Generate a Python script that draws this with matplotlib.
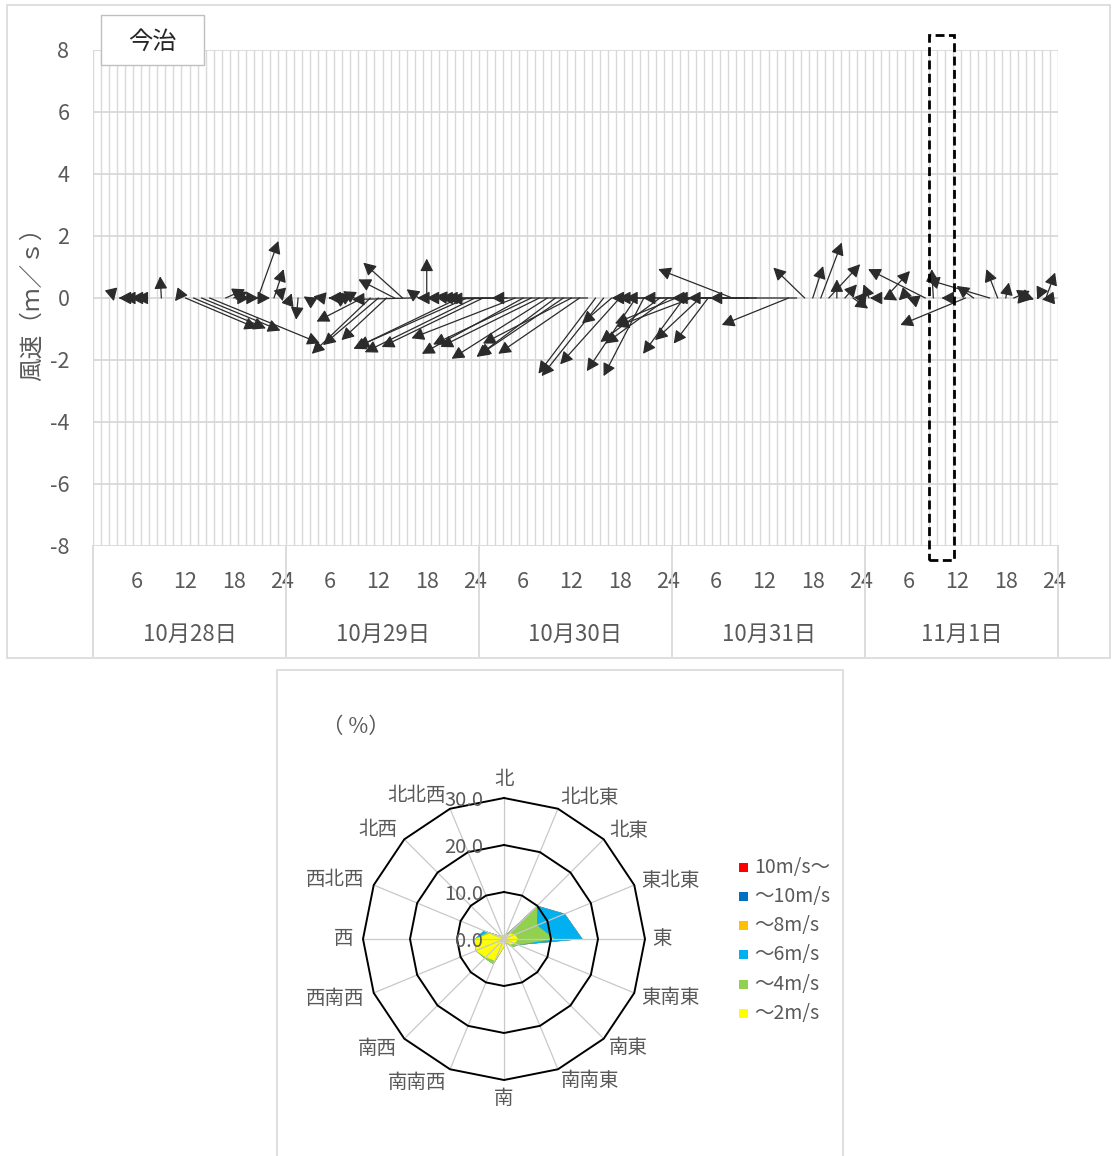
import numpy as np
import matplotlib
matplotlib.use("Agg")
import matplotlib.pyplot as plt
import matplotlib.transforms as mtransforms
from matplotlib.patches import Rectangle

plt.rcParams['font.family'] = ['Noto Sans CJK JP', 'DejaVu Sans']
plt.rcParams['axes.unicode_minus'] = False

TXT = '#595959'
GRID = '#d9d9d9'

# ---------------------------------------------------------------- data
station = '今治'
days = ['10月28日', '10月29日', '10月30日', '10月31日', '11月1日']
hour_ticks = [6, 12, 18, 24]
HOURS_PER_MS = 3.0          # horizontal stretch of a vector: hours per m/s

# hourly wind vector components (u: east, v: north) in m/s, 1h ... 24h per day
wind_u = [
    0, 0, 0.03, -0.1, -0.25, -0.27, -0.4, 0, -0.05, 0, -0.1, 2.97,
    3.0, 3.27, 4.57, 0, 0.8, 0.57, 0.33, 0.37, 0.85, 0.17, 0.4, 0.03,
    0.07, -0.08, -0.1, 0, -0.37, -0.07, -0.2, -0.33, -0.47, -1.9, -2.43, -2.3,
    -1.87, -1.5, -1.63, -2.43, -0.5, 0, -0.73, -0.67, -0.67, -4.37, -4.57, -4.57,
    -4.2, -2.1, -2.23, -2.37, -4.3, -4.2, -4.07, -4.1, -3.97, -3.27, -3.53, -3.67,
    -3.37, -3.97, -2.37, -2.57, -1.23, -2.47, -0.67, -2.03, -1.67, -1.4, -2.47, -2.6,
    -2.53, -1.7, -3.13, -1.87, -1.43, -3.77, -3.37, -3.07, -2.83, -3.03, -2.83, 0,
    0, 0, -2.77, -3.6, -1.3, 0.43, 0.87, 1.3, 0, 0.5, 0.63, -0.3,
    -0.23, -0.3, 1.03, 0.17, -0.1, -0.1, 0, -2.37, -0.07, 0, -0.33, 0,
    -2.7, -0.7, 0, -2.6, -0.47, 0.13, 0.67, 0.37, 0.17, -0.03, 0.38, -0.5,
]
wind_v = [
    0, 0, -0.1, 0, 0, 0, 0, 0, 0.7, 0, -0.1, -0.98,
    -0.98, -1.05, -1.46, 0, 0.28, 0.2, 0, 0, 1.84, 0, 0.93, -0.1,
    0.15, -0.7, 0.05, 0, 0.05, 0, 0.1, 0.17, 0.22, -0.76, -1.8, -1.52,
    -1.36, 0.6, 1.14, -0.05, 0.28, 1.27, 0, 0, 0.05, -1.64, -1.58, -1.75,
    -1.58, 0, 0, -0.03, -1.3, -1.8, -1.5, -1.58, -1.96, -1.9, -1.86, -1.47,
    -1.8, 0, -2.44, -2.52, -0.82, -2.14, 0, -2.36, -2.52, 0, -1.42, -1.47,
    -0.82, -1.8, -0.92, -1.36, -1.47, 0, 0, 0.93, 0, 0, 0, 0,
    0, 0, -0.87, 0, 0.98, 1.03, 1.79, 1.09, 0.6, 0.44, -0.34, 0.02,
    0.44, 0, 0.87, -0.08, -0.08, 0.03, 0, 0.93, 0.93, 0, 0, 0,
    -0.87, 0.39, 0, 0.6, 0.93, 0.5, 0.23, -0.05, -0.05, -0.05, 0.82, -0.05,
]
highlight_hours = (104, 107)   # 11月1日 8時～11時

# wind rose: frequency (%) per direction for each speed class
directions = ['北', '北北東', '北東', '東北東', '東', '東南東', '南東', '南南東',
              '南', '南南西', '南西', '西南西', '西', '西北西', '北西', '北北西']
freq_0_2 = [0.8, 0.8, 1.7, 2.5, 3.0, 2.5, 1.7, 0.8, 1.7, 5.0, 5.5, 6.5, 6.2, 3.2, 0.8, 0.8]
freq_2_4 = [0.0, 0.0, 8.3, 5.1, 7.8, 0.8, 0.8, 0.0, 0.0, 0.8, 0.3, 0.0, 0.0, 0.6, 0.0, 0.0]
freq_4_6 = [0.0, 0.0, 0.0, 6.4, 5.9, 0.0, 0.0, 0.0, 0.0, 0.0, 0.0, 0.0, 0.0, 0.8, 0.0, 0.0]
freq_6_8 = [0.0, 0.0, 0.0, 0.0, 0.0, 0.0, 0.0, 0.0, 0.0, 0.0, 0.0, 0.0, 0.0, 0.0, 0.0, 0.0]
freq_8_10 = [0.0, 0.0, 0.0, 0.0, 0.0, 0.0, 0.0, 0.0, 0.0, 0.0, 0.0, 0.0, 0.0, 0.0, 0.0, 0.0]
freq_10_up = [0.0, 0.0, 0.0, 0.0, 0.0, 0.0, 0.0, 0.0, 0.0, 0.0, 0.0, 0.0, 0.0, 0.0, 0.0, 0.0]
class_labels = ['〜2m/s', '〜4m/s', '〜6m/s', '〜8m/s', '〜10m/s', '10m/s〜']
class_colors = ['#FFFF00', '#92D050', '#00B0F0', '#FFC000', '#0070C0', '#FF0000']
rose_rings = [10, 20, 30]

# ---------------------------------------------------------------- figure
W, H = 1112, 1156
fig = plt.figure(figsize=(W / 100, H / 100), dpi=100)


def px_box(left, top, right, bottom):
    return [left / W, 1 - bottom / H, (right - left) / W, (bottom - top) / H]


def fig_rect(left, top, right, bottom, **kw):
    fig.add_artist(Rectangle((left / W, 1 - bottom / H), (right - left) / W,
                             (bottom - top) / H, transform=fig.transFigure, **kw))


# outer frames
fig_rect(7, 5, 1110, 658, fill=False, edgecolor=GRID, lw=1.2, zorder=0)
fig_rect(277, 670, 843, 1170, fill=False, edgecolor=GRID, lw=1.2, zorder=0)

# ---------------------------------------------------------------- vector chart
n_hours = len(wind_u)
ax = fig.add_axes(px_box(93, 50, 1058, 546))
ax.set_xlim(0, n_hours)
ax.set_ylim(-8, 8)
ax.set_yticks(np.arange(-8, 9, 2))
ax.set_xticks(np.arange(0, n_hours + 1), minor=True)
tick_pos = [d * 24 + h - 0.5 for d in range(len(days)) for h in hour_ticks]
tick_lab = [str(h) for d in range(len(days)) for h in hour_ticks]
ax.set_xticks(tick_pos)
ax.set_xticklabels(tick_lab)
ax.grid(axis='y', which='major', color=GRID, lw=1.3)
ax.grid(axis='x', which='minor', color=GRID, lw=1.0)
ax.set_axisbelow(True)
ax.tick_params(which='both', length=0)
ax.tick_params(axis='y', pad=17, labelsize=15.5, labelcolor=TXT)
ax.tick_params(axis='x', pad=18, labelsize=15.5, labelcolor=TXT)
for s in ax.spines.values():
    s.set_visible(False)

ax.set_ylabel('風速（ｍ／ｓ）', fontsize=17, color=TXT)
ax.yaxis.set_label_coords(-0.051, 0.5)

# day separators and day labels under the axis
blend = mtransforms.blended_transform_factory(ax.transData, ax.transAxes)
for d in range(len(days) + 1):
    ax.plot([d * 24, d * 24], [0, -0.222], transform=blend, color=GRID,
            lw=1.3, clip_on=False)
for d, name in enumerate(days):
    ax.text(d * 24 + 12, -0.1775, name, transform=blend, ha='center',
            va='center', fontsize=16, color=TXT)

# wind vectors: tail on the zero line at each hour, head at (t + u*k, v)
for i, (u, v) in enumerate(zip(wind_u, wind_v)):
    if u == 0 and v == 0:
        continue
    t = i + 0.5
    ax.annotate('', xy=(t + u * HOURS_PER_MS, v), xytext=(t, 0),
                arrowprops=dict(arrowstyle='-|>,head_length=0.42,head_width=0.22',
                                mutation_scale=18, lw=0.9, color='#2b2b2b',
                                shrinkA=0, shrinkB=0),
                annotation_clip=False)

# highlighted time window
h0, h1 = highlight_hours
ax.add_patch(Rectangle((h0, -8.45), h1 - h0 + 0.1, 16.95, fill=False,
                       edgecolor='black', lw=2.0, ls=(0, (3.2, 1.6)),
                       clip_on=False, zorder=5))

# station name box
fig_rect(101, 15, 204, 65, facecolor='white', edgecolor='#bfbfbf', lw=1.0, zorder=3)
fig.text(152.5 / W, 1 - 42 / H, station, ha='center', va='center',
         fontsize=17.5, color='#262626', zorder=4)

# ---------------------------------------------------------------- wind rose
CX, CY, PX_PER_PCT = 504, 939, 4.7
half = 215
ax2 = fig.add_axes(px_box(CX - half, CY - half, CX + half, CY + half))
lim = half / PX_PER_PCT
ax2.set_xlim(-lim, lim)
ax2.set_ylim(-lim, lim)
ax2.axis('off')

ang = np.deg2rad(90 - 22.5 * np.arange(len(directions)))
ang_c = np.append(ang, ang[0])

classes = np.array([freq_0_2, freq_2_4, freq_4_6, freq_6_8, freq_8_10, freq_10_up])
cum = np.cumsum(classes, axis=0)
for k in range(len(class_labels) - 1, -1, -1):
    r = np.append(cum[k], cum[k][0])
    ax2.fill(r * np.cos(ang_c), r * np.sin(ang_c), color=class_colors[k], lw=0, zorder=1)

r_max = rose_rings[-1]
for a in ang:
    ax2.plot([0, r_max * np.cos(a)], [0, r_max * np.sin(a)], color='#c8c8c8',
             lw=0.9, zorder=2)
for rr in rose_rings:
    ax2.plot(rr * np.cos(ang_c), rr * np.sin(ang_c), color='black', lw=1.4, zorder=3)
for rr in [0] + rose_rings:
    ax2.text(-4.4, rr - 0.5, f'{rr:.1f}', ha='right', va='center', fontsize=14.5,
             color=TXT, zorder=4)

for name, a in zip(directions, ang):
    c, s = np.cos(a), np.sin(a)
    pad = 1.6 if c >= 0 else 2.1
    x, y = (r_max + pad) * c, (r_max + pad) * s
    ha = 'center' if abs(c) < 0.1 else ('left' if c > 0 else 'right')
    if abs(c) < 0.1:
        va = 'bottom' if s > 0 else 'top'
    else:
        va = 'center'
        y += 0.9 * s
    ax2.text(x, y, name, ha=ha, va=va, fontsize=14, color=TXT)

fig.text(356 / W, 1 - 727 / H, '（ %）', ha='center', va='center', fontsize=15.5, color=TXT)

# legend, fastest class on top
for row, k in enumerate(range(len(class_labels) - 1, -1, -1)):
    yc = 867.3 + row * 29.2
    fig_rect(739, yc - 4.5, 748, yc + 4.5, facecolor=class_colors[k], lw=0)
    fig.text(754 / W, 1 - yc / H, class_labels[k], ha='left', va='center',
             fontsize=14, color=TXT)

fig.savefig('out.png', dpi=100)
